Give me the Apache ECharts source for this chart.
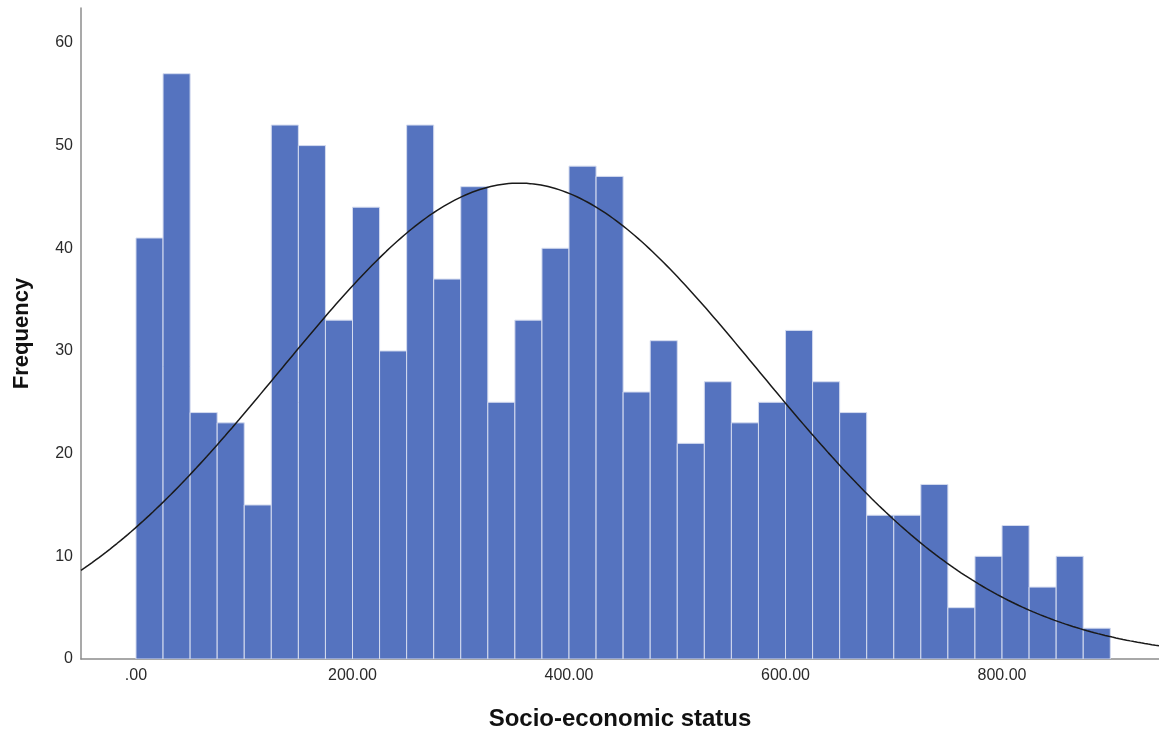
<!DOCTYPE html>
<html>
<head>
<meta charset="utf-8">
<script src="https://cdn.jsdelivr.net/npm/echarts@6/dist/echarts.min.js"></script>
<style>
  html, body { margin: 0; padding: 0; background: #ffffff; }
  #chart { width: 1159px; height: 735px; }
</style>
</head>
<body>
<div id="chart"></div>
<script>
// Histogram of socio-economic status, bins of width 25 starting at 0
const binStart = 0;
const binWidth = 25;
const frequencies = [41, 57, 24, 23, 15, 52, 50, 33, 44, 30, 52, 37, 46, 25, 33, 40, 48, 47,
                     26, 31, 21, 27, 23, 25, 32, 27, 24, 14, 14, 17, 5, 10, 13, 7, 10, 3];

// Fitted normal curve parameters
const curveMean = 354;
const curveStdDev = 220.8;
const sampleSize = frequencies.reduce((a, b) => a + b, 0);

const xMin = -50.8;
const xMax = 945;
const yMax = 63.4;

const barData = frequencies.map((f, i) => [binStart + i * binWidth, binStart + (i + 1) * binWidth, f]);

const curveData = [];
const steps = 300;
for (let i = 0; i <= steps; i++) {
  const x = xMin + (xMax - xMin) * i / steps;
  const z = (x - curveMean) / curveStdDev;
  const y = sampleSize * binWidth / (curveStdDev * Math.sqrt(2 * Math.PI)) * Math.exp(-0.5 * z * z);
  curveData.push([x, y]);
}

const chart = echarts.init(document.getElementById('chart'), null, { renderer: 'canvas' });
const fontFamily = '"Liberation Sans", Arial, sans-serif';

chart.setOption({
  animation: false,
  backgroundColor: '#ffffff',
  grid: { left: 81, right: 0, top: 8, bottom: 76, containLabel: false, outerBoundsMode: 'none' },
  xAxis: {
    type: 'value',
    min: xMin,
    max: xMax,
    minInterval: 200,
    maxInterval: 200,
    name: 'Socio-economic status',
    nameLocation: 'middle',
    nameGap: 48,
    nameTextStyle: { fontFamily, fontSize: 24, fontWeight: 'bold', color: '#111' },
    axisLine: { show: true, onZero: false, lineStyle: { color: '#8c8c8c', width: 1.5 } },
    axisTick: { show: false },
    splitLine: { show: false },
    axisLabel: {
      fontFamily, fontSize: 16, color: '#2a2a2a', margin: 9,
      formatter: v => {
        if (Math.abs(v / 200 - Math.round(v / 200)) > 1e-6) return '';
        return v === 0 ? '.00' : v.toFixed(2);
      }
    }
  },
  yAxis: {
    type: 'value',
    min: 0,
    max: yMax,
    interval: 10,
    name: 'Frequency',
    nameLocation: 'middle',
    nameGap: 48,
    nameTextStyle: { fontFamily, fontSize: 22, fontWeight: 'bold', color: '#111' },
    axisLine: { show: true, onZero: false, lineStyle: { color: '#8c8c8c', width: 1.5 } },
    axisTick: { show: false },
    splitLine: { show: false },
    axisLabel: {
      fontFamily, fontSize: 16, color: '#2a2a2a', margin: 8,
      formatter: v => (Math.abs(v % 10) < 1e-6 ? String(v) : '')
    }
  },
  series: [
    {
      type: 'custom',
      data: barData,
      encode: { x: [0, 1], y: 2 },
      clip: true,
      renderItem: (params, api) => {
        const p0 = api.coord([api.value(0), api.value(2)]);
        const p1 = api.coord([api.value(1), 0]);
        return {
          type: 'rect',
          shape: { x: p0[0], y: p0[1], width: p1[0] - p0[0], height: p1[1] - p0[1] },
          style: { fill: '#5573bf', stroke: '#d4dbef', lineWidth: 1 }
        };
      },
      z: 2
    },
    {
      type: 'line',
      data: curveData,
      showSymbol: false,
      smooth: false,
      lineStyle: { color: '#1a1a1a', width: 1.5 },
      z: 3
    }
  ]
});
</script>
</body>
</html>
